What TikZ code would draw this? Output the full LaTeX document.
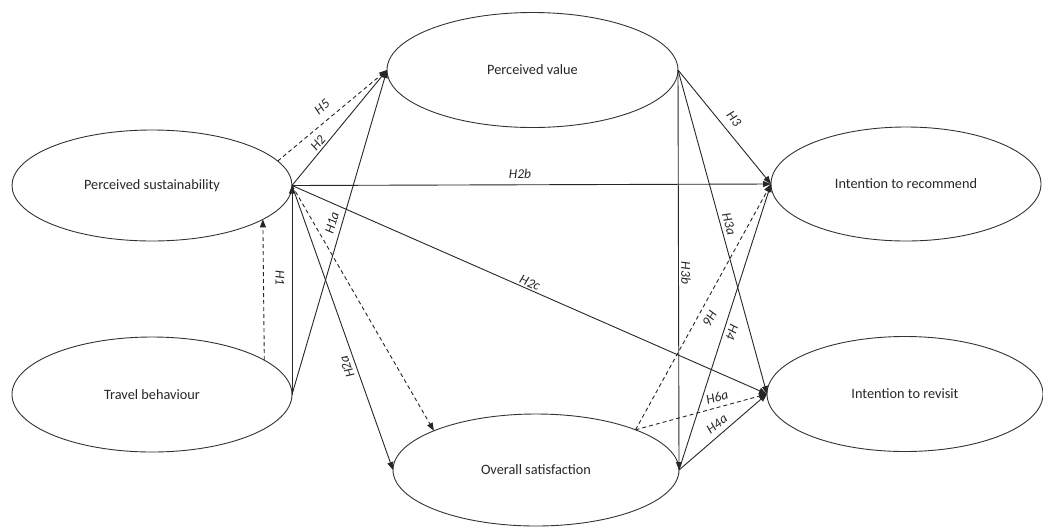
\documentclass[tikz,border=0pt]{standalone}
\usepackage{fontspec}
\setmainfont{Carlito}
\usetikzlibrary{shapes.geometric,arrows.meta}
\begin{document}
\begin{tikzpicture}[x=1pt,y=-1pt,
  construct/.style={ellipse,draw=black!80,line width=0.9pt,inner sep=0pt,outer sep=0pt,
    font=\fontsize{14.3}{16}\selectfont,text=black!85},
  path/.style={line width=0.9pt,draw=black!85,-{Triangle[length=8pt,width=6pt]}},
  dpath/.style={path,dash pattern=on 4pt off 3pt},
  hlab/.style={font=\fontsize{13.5}{15}\selectfont\itshape,text=black!85,inner sep=0pt}]
\useasboundingbox (0,0) rectangle (1043,528);
\node[construct,minimum width=280pt,minimum height=111pt] (PS) at (152,185.5) {Perceived sustainability};
\node[construct,minimum width=291pt,minimum height=115pt] (PV) at (532.5,70) {Perceived value};
\node[construct,minimum width=280pt,minimum height=115pt] (TB) at (152,394.5) {Travel behaviour};
\node[construct,minimum width=286pt,minimum height=112pt] (OS) at (536,470) {Overall satisfaction};
\node[construct,minimum width=270pt,minimum height=114pt] (IR) at (906,184) {Intention to recommend};
\node[construct,minimum width=276pt,minimum height=115pt] (IV) at (905,394) {Intention to revisit};

% left side
\draw[dpath] (PS.11) -- (PV.west);
\draw[path] (PS.east) -- (PV.west);
\draw[path] (TB.east) -- (PV.west);
\draw[path] (TB.east) -- (PS.east);
\draw[dpath] (TB.17.1) -- (PS.-17.1);
\draw[path] (PS.east) -- (IR.west);
\draw[path] (PS.east) -- (IV.west);
\draw[dpath] (PS.east) -- (OS.159);
\draw[path] (PS.east) -- (OS.west);

% right side
\draw[path] (PV.east) -- (IR.west);
\draw[path] (PV.east) -- (IV.west);
\draw[path] (PV.east) -- (OS.east);
\draw[path] (OS.east) -- (IR.west);
\draw[path] (OS.east) -- (IV.west);
\draw[dpath] (OS.22) -- (IR.west);
\draw[dpath] (OS.22) -- (IV.west);

% labels
\node[hlab,rotate=40] (l5) at (322,107) {H5};
\node[hlab,rotate=50] (l2) at (318,143) {H2};
\node[hlab,rotate=74] (l1a) at (332,223) {H1a};
\node[hlab,rotate=-90] (l1) at (280,278) {H1};
\node[hlab,rotate=110] (l2a) at (347,367) {H2a};
\node[hlab] (l2b) at (520,174) {H2b};
\node[hlab,rotate=-23.5] (l2c) at (530,283) {H2c};
\node[hlab,rotate=-51] (l3) at (734,119) {H3};
\node[hlab,rotate=-74] (l3a) at (729,224) {H3a};
\node[hlab,rotate=-90] (l3b) at (686,273) {H3b};
\node[hlab,rotate=-119] (l6) at (710,318) {H6};
\node[hlab,rotate=-109] (l4) at (732,332) {H4};
\node[hlab,rotate=16] (l6a) at (717,397) {H6a};
\node[hlab,rotate=37] (l4a) at (717,424) {H4a};
\end{tikzpicture}
\end{document}
